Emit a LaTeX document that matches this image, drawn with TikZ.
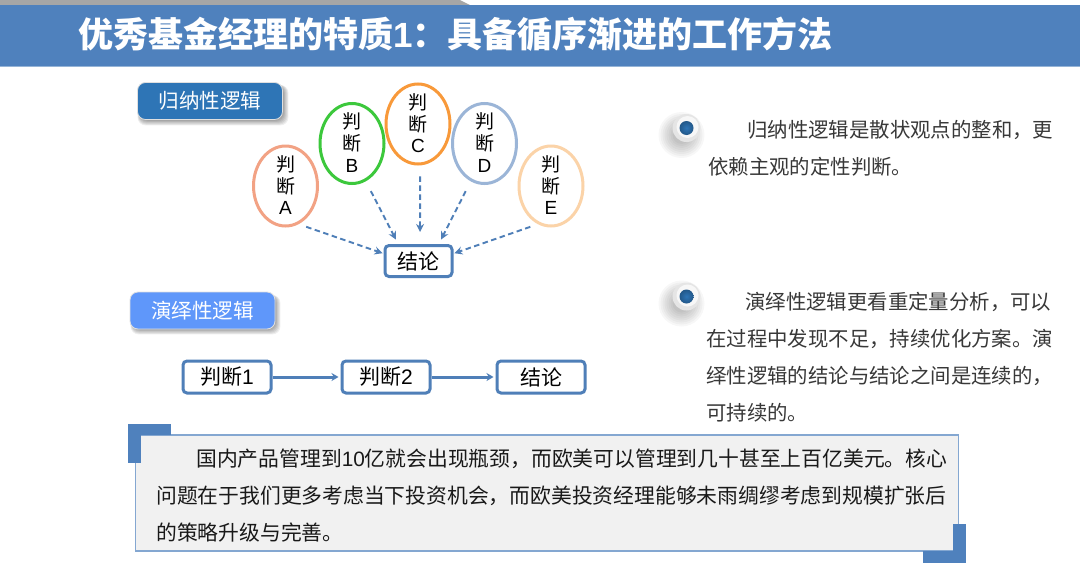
\documentclass[tikz,border=0pt]{standalone}
\usepackage{fontspec}
\setmainfont{Noto Sans CJK SC}
\newfontfamily\latinf{Liberation Sans}
\usetikzlibrary{arrows.meta,shapes.geometric,calc}
\definecolor{band}{HTML}{4F81BD}
\definecolor{flow}{HTML}{4F7FB8}
\definecolor{tagA}{HTML}{2E75B6}
\definecolor{tagB}{HTML}{5F97FA}
\definecolor{edgeA}{HTML}{F2A284}
\definecolor{edgeB}{HTML}{3CC83C}
\definecolor{edgeC}{HTML}{F8993A}
\definecolor{edgeD}{HTML}{9BB5D7}
\definecolor{edgeE}{HTML}{FBD3A8}
\newcommand{\fs}[2]{\fontsize{#1}{#2}\selectfont}
\newcommand{\jtext}[1]{\raisebox{-3.5pt}[0pt][0pt]{\parbox{24pt}{\centering 判\\断\\{\latinf #1}}}}
\tikzset{
  x=1pt,y=-1pt,
  judge/.style={ellipse,draw=#1,line width=3pt,fill=white,minimum width=64pt,minimum height=80pt,inner sep=0pt,font=\fs{19}{21.8},text=black},
  flowbox/.style={draw=flow,line width=3pt,rounded corners=4pt,fill=white,inner sep=0pt,font=\fs{21}{24},text=black},
  tag/.style={rounded corners=8pt,draw=white!88!black,line width=0.8pt,inner sep=0pt,minimum width=145pt,minimum height=37pt,text=white,font=\fs{20.5}{24}},
  dasharrow/.style={draw=flow,line width=1.9pt,dash pattern=on 5.5pt off 3.5pt,-{Stealth[length=8pt,width=8pt]}},
  solidarrow/.style={draw=flow,line width=3pt,-{Stealth[length=7pt,width=8pt]}},
  bodytext/.style={anchor=north west,inner sep=0pt,align=left,text=black!78,font=\fs{20.4}{36.9}},
  notetext/.style={anchor=north west,inner sep=0pt,align=left,text=black!90,font=\fs{20.8}{36.7}},
  corner/.style={fill=band,draw=none},
}
\newcommand{\softshadow}[5]{% x1 y1 x2 y2 radius
  \foreach \g in {6,5,4,3,2,1,0}{
    \fill[black,opacity=0.065,rounded corners=#5] ({#1+3-\g*0.4},{#2+3}) rectangle ({#3+\g*0.9},{#4+\g*0.9});
  }}
\newcommand{\bullett}[3]{% x y name
  \foreach \g in {14,12,10,8,6,4,2,0}{
    \fill[black,opacity=0.03] ({#1-5},{#2+7}) circle ({9+\g*1pt});
  }
  \fill[white!90!black] (#1,#2) circle (14);
  \fill[white!97!black] ({#1+1},{#2-1}) circle (11);
  \node[circle,inner color=tagA,outer color=tagA!75!black,inner sep=0pt,minimum size=14pt] (#3) at (#1,#2) {};
}
\begin{document}
\begin{tikzpicture}
\useasboundingbox (0,0) rectangle (1080,568);
\fill[white] (0,0) rectangle (1080,568);
% top band
\fill[black!35] (0,0) -- (460,0) -- (470,5) -- (0,5) -- cycle;
\fill[band] (0,5) rectangle (1080,66);
\fill[band!60] (0,66) rectangle (1080,67);
\node[anchor=west,inner sep=0pt,text=white,font=\fs{35}{38}\bfseries] (title) at (78,34) {优秀基金经理的特质{\latinf\bfseries 1}：具备循序渐进的工作方法};

% inductive tag
\softshadow{137}{82}{283}{120}{8pt}
\node[tag,fill=tagA] (tagInd) at (210,101) {归纳性逻辑};
% judgement ellipses
\node[judge=edgeA] (jA) at (285.5,186) {\jtext{A}};
\node[judge=edgeB] (jB) at (352,143.5) {\jtext{B}};
\node[judge=edgeC] (jC) at (418,124) {\jtext{C}};
\node[judge=edgeD] (jD) at (484.5,143.5) {\jtext{D}};
\node[judge=edgeE] (jE) at (551,186) {\jtext{E}};
\node[flowbox,minimum width=67pt,minimum height=31pt] (conc) at (418.5,261) {结论};
\draw[dasharrow,shorten <=8pt,shorten >=1pt] (jA.-71) -- (conc.168);
\draw[dasharrow,shorten <=11pt,shorten >=5pt] (jB.-70) -- (conc.140);
\draw[dasharrow,shorten <=11pt,shorten >=12pt] (jC.-87) -- (conc.85);
\draw[dasharrow,shorten <=11pt,shorten >=5pt] (jD.-110) -- (conc.40);
\draw[dasharrow,shorten <=8pt,shorten >=1pt] (jE.-109) -- (conc.12);

% deductive tag
\softshadow{130}{292}{275}{329}{8pt}
\node[tag,fill=tagB] (tagDed) at (202.5,310.5) {演绎性逻辑};
\node[flowbox,minimum width=88pt,minimum height=32pt] (s1) at (227,377) {判断{\latinf 1}};
\node[flowbox,minimum width=88pt,minimum height=32pt] (s2) at (386,377) {判断{\latinf 2}};
\node[flowbox,minimum width=88pt,minimum height=32pt] (s3) at (541,377) {结论};
\draw[solidarrow,shorten >=2pt] (s1) -- (s2);
\draw[solidarrow,shorten >=2pt] (s2) -- (s3);

% right column
\bullett{686.5}{128}{b1}
\bullett{686.5}{296.5}{b2}
\node[bodytext] (txtA) at (708,120) {\hspace{39pt}归纳性逻辑是散状观点的整和，更\\依赖主观的定性判断。};
\node[bodytext] (txtB) at (706,292) {\hspace{39pt}演绎性逻辑更看重定量分析，可以\\在过程中发现不足，持续优化方案。演\\绎性逻辑的结论与结论之间是连续的，\\可持续的。};

% note box
\node[draw=band!70!white,line width=1.2pt,fill=black!5.5,minimum width=823pt,minimum height=116pt,inner sep=0pt] (note) at (547,493) {};
\fill[corner] (128,424) rectangle (171,434.5);
\fill[corner] (128,424) rectangle (141,463);
\fill[corner] (923,551) rectangle (966,563);
\fill[corner] (952.5,524) rectangle (966,563);
\node[notetext] (noteText) at (156,449) {\hspace{40pt}国内产品管理到{\latinf 10}亿就会出现瓶颈，而欧美可以管理到几十甚至上百亿美元。核心\\问题在于我们更多考虑当下投资机会，而欧美投资经理能够未雨绸缪考虑到规模扩张后\\的策略升级与完善。};
\end{tikzpicture}
\end{document}
